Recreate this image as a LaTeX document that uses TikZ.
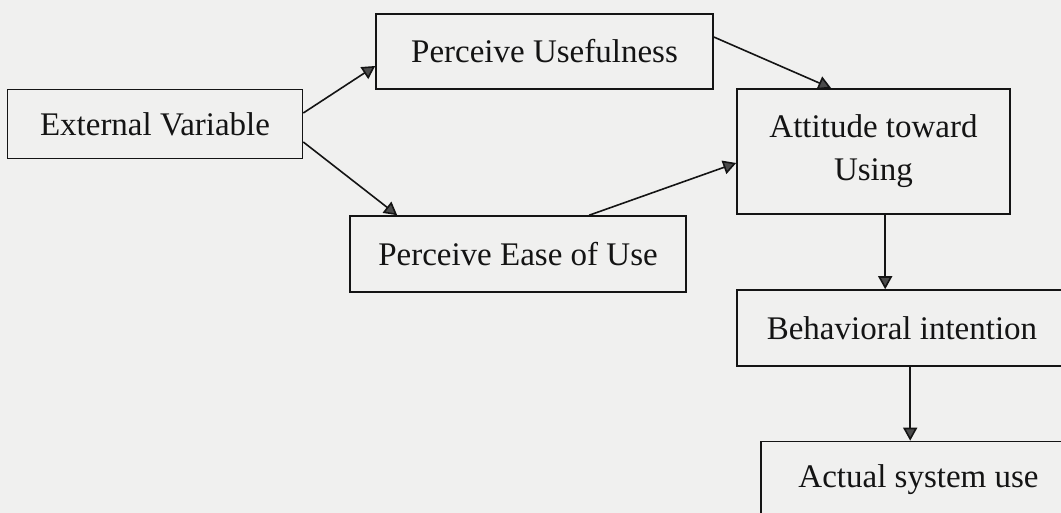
\documentclass[tikz,border=0pt]{standalone}
\usepackage{fontspec}
\setmainfont{Liberation Serif}
\usetikzlibrary{arrows.meta,calc}
\definecolor{paper}{RGB}{240,240,239}
\definecolor{ink}{RGB}{20,20,20}
\definecolor{tipfill}{RGB}{75,75,75}
\begin{document}
\begin{tikzpicture}[x=1pt,y=-1pt,
  box/.style={draw=ink,line width=1.6pt,inner sep=0pt,align=center,
    font=\fontsize{33}{43}\selectfont,text=ink},
  link/.style={draw=ink,line width=1.6pt,
    -{Triangle[length=13pt,width=14pt,fill=tipfill]}}]
  % page area
  \fill[paper] (0,0) rectangle (1061,513);
  \useasboundingbox (0,0) rectangle (1061,513);
  \clip (0,0) rectangle (1061,513);

  % boxes
  \node[box,minimum width=295pt,minimum height=69pt] (ev) at (155,124) {External Variable};
  \node[box,minimum width=337pt,minimum height=75pt] (pu) at (544.5,51.5) {Perceive Usefulness};
  \node[box,minimum width=336pt,minimum height=76pt] (peu) at (518,254) {Perceive Ease of Use};
  \node[box,minimum width=273pt,minimum height=125pt] (att) at (873.5,151.5) {Attitude toward\\Using};
  \node[box,minimum width=330pt,minimum height=76pt] (bi) at (902,328) {Behavioral intention};
  \node[box,minimum width=315pt,minimum height=77pt] (asu) at (918.5,480) {Actual system use};

  % connectors
  \draw[link] ($(ev.east)+(0,-11)$) -- ($(pu.west)+(0,14.5)$);
  \draw[link] ($(ev.east)+(0,18)$) -- ($(peu.north west)+(48,0)$);
  \draw[link] ($(pu.east)+(0,-14.5)$) -- ($(att.north west)+(95,0)$);
  \draw[link] ($(peu.north west)+(240,0)$) -- ($(att.west)+(0,11.5)$);
  \draw[link] ($(att.south west)+(149,0)$) -- ($(bi.north west)+(149,0)$);
  \draw[link] ($(bi.south west)+(174,0)$) -- ($(asu.north west)+(150,0)$);
\end{tikzpicture}
\end{document}
